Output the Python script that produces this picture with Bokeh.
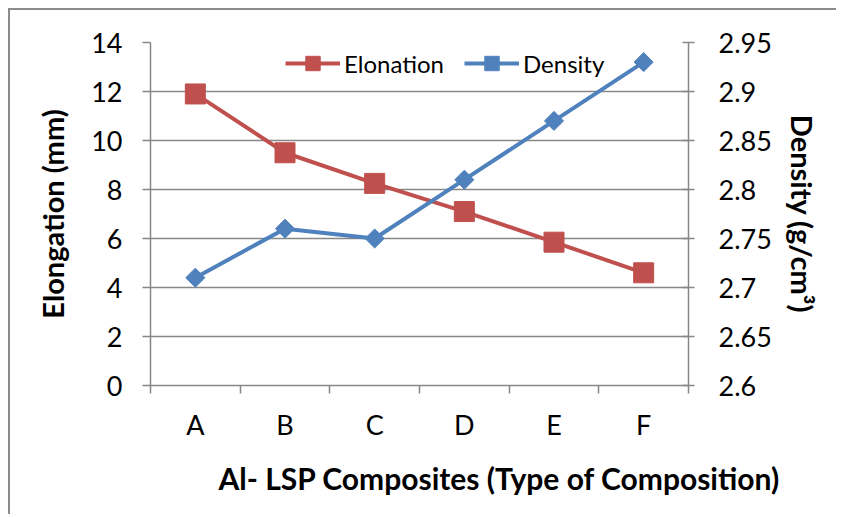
from bokeh.plotting import figure
from bokeh.models import Range1d, LinearAxis, FixedTicker, Legend, LegendItem, Title
from bokeh.embed import file_html
from bokeh.resources import INLINE
import math

categories = ["A", "B", "C", "D", "E", "F"]
elongation = [11.9, 9.5, 8.25, 7.1, 5.85, 4.6]
density = [2.71, 2.76, 2.75, 2.81, 2.87, 2.93]
elong_ticks = [0, 2, 4, 6, 8, 10, 12, 14]
density_ticks = [2.6, 2.65, 2.7, 2.75, 2.8, 2.85, 2.9, 2.95]

x = [i + 0.5 for i in range(len(categories))]
bounds = list(range(len(categories) + 1))

RED = "#C0504D"
BLUE = "#4F81BD"
GRAY = "#878787"
FONT = "Lato"
TICK_FS = "27px"
LABEL_FS = "29px"

p = figure(width=828, height=506, output_backend="svg", toolbar_location=None,
           x_range=Range1d(0, len(categories)), y_range=Range1d(elong_ticks[0], elong_ticks[-1]),
           min_border_left=140, min_border_right=150, min_border_top=32, min_border_bottom=131)
p.extra_y_ranges = {"dens": Range1d(density_ticks[0], density_ticks[-1])}
p.outline_line_color = None
p.styles = {"border-top": "2px solid #8c8c8c", "border-left": "2px solid #8c8c8c",
            "margin-left": "8px", "margin-top": "8px"}

p.xgrid.visible = False
p.ygrid.ticker = FixedTicker(ticks=elong_ticks)
p.ygrid.grid_line_color = GRAY
p.ygrid.grid_line_width = 1.5

# bottom axis
xa = p.xaxis[0]
xa.ticker = FixedTicker(ticks=x, minor_ticks=bounds)
xa.major_label_overrides = {xi: c for xi, c in zip(x, categories)}
xa.major_tick_line_color = None
xa.minor_tick_out = 8
xa.minor_tick_in = 0
xa.minor_tick_line_color = GRAY
xa.minor_tick_line_width = 1.5
xa.axis_line_color = GRAY
xa.axis_line_width = 1.5
xa.major_label_standoff = 14
xa.major_label_text_font = FONT
xa.major_label_text_font_size = TICK_FS
xa.major_label_text_color = "black"

# left axis
ya = p.yaxis[0]
ya.ticker = FixedTicker(ticks=elong_ticks)
ya.major_tick_out = 8
ya.major_tick_in = 0
ya.minor_tick_line_color = None
ya.major_tick_line_color = GRAY
ya.major_tick_line_width = 1.5
ya.axis_line_color = GRAY
ya.axis_line_width = 1.5
ya.major_label_standoff = 20
ya.major_label_text_font = FONT
ya.major_label_text_font_size = TICK_FS
ya.major_label_text_color = "black"
ya.axis_label = "Elongation (mm)"
ya.axis_label_text_font = FONT
ya.axis_label_text_font_style = "bold"
ya.axis_label_text_font_size = LABEL_FS
ya.axis_label_text_color = "black"
ya.axis_label_standoff = 18

# right axis
ra = LinearAxis(y_range_name="dens", ticker=FixedTicker(ticks=density_ticks),
                major_label_overrides={t: f"{t:g}" for t in density_ticks})
ra.major_tick_out = 6
ra.major_tick_in = 6
ra.minor_tick_line_color = None
ra.major_tick_line_color = GRAY
ra.major_tick_line_width = 1.5
ra.axis_line_color = GRAY
ra.axis_line_width = 1.5
ra.major_label_standoff = 24
ra.major_label_text_font = FONT
ra.major_label_text_font_size = TICK_FS
ra.major_label_text_color = "black"
ra.axis_label = "Density (g/cm\u00b3)"
ra.axis_label_orientation = "vertical"
ra.axis_label_text_font = FONT
ra.axis_label_text_font_style = "bold"
ra.axis_label_text_font_size = LABEL_FS
ra.axis_label_text_color = "black"
ra.axis_label_standoff = 10
p.add_layout(ra, "right")

# series
le = p.line(x, elongation, line_color=RED, line_width=4)
se = p.scatter(x, elongation, marker="square", size=20, fill_color=RED, line_color=RED)
ld = p.line(x, density, y_range_name="dens", line_color=BLUE, line_width=4)
sd = p.scatter(x, density, y_range_name="dens", marker="square", angle=math.pi / 4,
               size=13.5, fill_color=BLUE, line_color=BLUE)

legend = Legend(items=[LegendItem(label="Elonation", renderers=[le, se]),
                       LegendItem(label="Density", renderers=[ld, sd])],
                orientation="horizontal", location=(135, 304),
                glyph_width=55, glyph_height=36, label_standoff=4, spacing=20,
                padding=1, margin=0, border_line_color=None,
                background_fill_alpha=0,
                label_text_font=FONT, label_text_font_size="24px", label_text_color="black")
p.add_layout(legend)

title = Title(text="Al- LSP Composites (Type of Composition)", align="left", offset=68,
              standoff=33, vertical_align="top", text_font=FONT, text_font_style="bold",
              text_font_size="30px", text_color="black")
p.add_layout(title, "below")

open("out.html", "w").write(file_html(p, INLINE))
